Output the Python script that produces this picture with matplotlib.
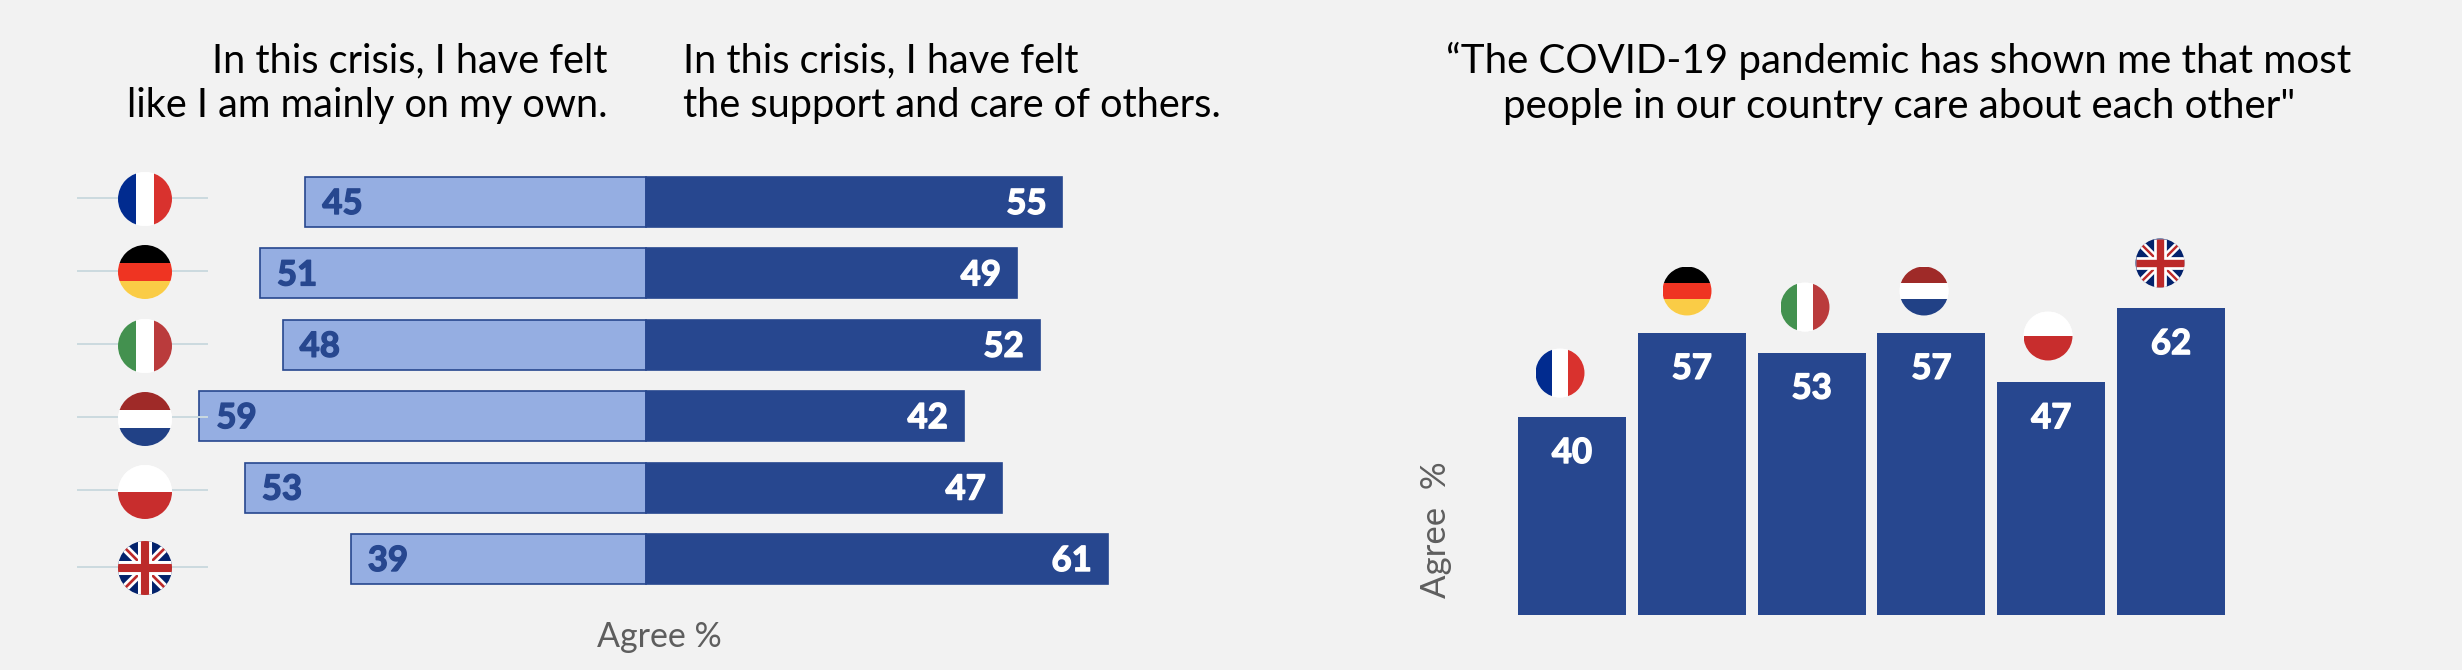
import matplotlib
matplotlib.use('Agg')
import matplotlib.pyplot as plt
import matplotlib.patheffects as pe
from matplotlib.patches import Circle, Rectangle

countries = ['France', 'Germany', 'Italy', 'Netherlands', 'Poland', 'UK']
on_my_own = [45, 51, 48, 59, 53, 39]
support_of_others = [55, 49, 52, 42, 47, 61]
cares_about_others = [40, 57, 53, 57, 47, 62]

left_title_a = ['In this crisis, I have felt', 'like I am mainly on my own.']
left_title_b = ['In this crisis, I have felt', 'the support and care of others.']
right_title = ['\u201cThe COVID-19 pandemic has shown me that most',
               'people in our country care about each other"']

BG = '#F2F2F2'
DARK = '#27478F'
LIGHT = '#95AEE2'
GREY = '#5E5E5E'
W, H = 2462, 670

plt.rcParams['font.family'] = ['Lato', 'DejaVu Sans']

fig = plt.figure(figsize=(W / 100, H / 100), dpi=100, facecolor=BG)


def px_axes(x0, y0, x1, y1):
    """axes from a pixel box, y measured from the top of the picture"""
    ax = fig.add_axes([x0 / W, 1 - y1 / H, (x1 - x0) / W, (y1 - y0) / H])
    ax.set_axis_off()
    return ax


def value_label(ax, x, y, text, dx, dy, color, ha):
    # offsets are given in picture pixels, the stroke fattens Lato bold to the heavy digits of the original
    t = ax.annotate(text, (x, y), xytext=(dx, dy), textcoords='offset pixels', ha=ha, va='baseline',
                    color=color, fontsize=25, fontweight='bold')
    t.set_path_effects([pe.withStroke(linewidth=1.0, foreground=color)])


# diverging bars, 0 sits at x=646 with 7.57 px per point
ax1 = px_axes(100, 140, 1200, 620)
ax1.set_xlim((100 - 646) / 7.57, (1200 - 646) / 7.57)
ax1.set_ylim((620 - 202) / 71.4, (140 - 202) / 71.4)
rows = range(len(countries))
ax1.barh(rows, [-v for v in on_my_own], height=0.70, color=LIGHT, edgecolor=DARK, linewidth=1.2)
ax1.barh(rows, support_of_others, height=0.70, color=DARK, edgecolor=DARK, linewidth=1.2)
for i in rows:
    value_label(ax1, -on_my_own[i], i, str(on_my_own[i]), 17, -12, DARK, 'left')
    value_label(ax1, support_of_others[i], i, str(support_of_others[i]), -16, -12, 'white', 'right')

# column chart, baseline at y=615 with 4.95 px per point
ax2 = px_axes(1500, 230, 2240, 615)
ax2.set_xlim(-0.5 + (1500 - 1512) / 119.7, 5.5 + (2240 - 2231) / 119.7)
ax2.set_ylim(0, 385 / 4.95)
ax2.bar(rows, cares_about_others, width=0.9, color=DARK)
for i in rows:
    value_label(ax2, i, cares_about_others[i], str(cares_about_others[i]), 0, -46, 'white', 'center')

# overlay in picture pixels for the titles and the flags
ov = px_axes(0, 0, W, H)
ov.set_xlim(0, W)
ov.set_ylim(H, 0)

title_kw = dict(fontsize=28.6, color='black', va='baseline')
ov.text(608, 72, left_title_a[0], ha='right', **title_kw)
ov.text(608, 117, left_title_a[1], ha='right', **title_kw)
ov.text(683, 72, left_title_b[0], ha='left', **title_kw)
ov.text(683, 117, left_title_b[1], ha='left', **title_kw)
title_kw['fontsize'] = 29
ov.text(1899, 73, right_title[0], ha='center', **title_kw)
ov.text(1899, 118, right_title[1], ha='center', **title_kw)

ov.text(659, 637, 'Agree %', ha='center', va='center', fontsize=24.5, color=GREY)
ov.text(1436, 530, 'Agree  %', ha='center', va='center', rotation=90, fontsize=25, color=GREY)


def stripes(x, y, r, colors, vertical, clip):
    n = len(colors)
    for k, c in enumerate(colors):
        if vertical:
            s = Rectangle((x - r + 2 * r * k / n, y - r), 2 * r / n, 2 * r, fc=c, ec='none', zorder=3)
        else:
            s = Rectangle((x - r, y - r + 2 * r * k / n), 2 * r, 2 * r / n, fc=c, ec='none', zorder=3)
        ov.add_patch(s)
        s.set_clip_path(clip)


def union_jack(x, y, r, clip):
    clip.set_facecolor('#03226C')
    parts = [
        ((x - r, x + r), (y - r, y + r), 'white', 0.30 * r),
        ((x - r, x + r), (y + r, y - r), 'white', 0.30 * r),
        ((x - r, x + r), (y - r, y + r), '#BC2A2A', 0.10 * r),
        ((x - r, x + r), (y + r, y - r), '#BC2A2A', 0.10 * r),
        ((x, x), (y - r, y + r), 'white', 0.52 * r),
        ((x - r, x + r), (y, y), 'white', 0.52 * r),
        ((x, x), (y - r, y + r), '#BC2A2A', 0.30 * r),
        ((x - r, x + r), (y, y), '#BC2A2A', 0.30 * r),
    ]
    for xs, ys, c, lw in parts:
        line, = ov.plot(xs, ys, color=c, lw=lw * 0.72, solid_capstyle='butt', zorder=3)
        line.set_clip_path(clip)


flags = {
    'France': (['#012B8F', 'white', '#D9322E'], True),
    'Germany': (['black', '#EF3422', '#FACC46'], False),
    'Italy': (['#43914F', 'white', '#BA3B3C'], True),
    'Netherlands': (['#9F2A28', 'white', '#214186'], False),
    'Poland': (['white', '#C82D2D'], False),
}


def draw_flag(name, x, y, r):
    disc = Circle((x, y), r, fc='white', ec='none', zorder=2.5)
    ov.add_patch(disc)
    if name == 'UK':
        union_jack(x, y, r, disc)
    else:
        colors, vertical = flags[name]
        stripes(x, y, r, colors, vertical, disc)


left_flag_y = [199, 272, 346, 419, 492, 568]
left_line_y = [198, 271, 344, 417, 490, 567]
right_flag_x = [1560, 1687, 1805, 1924, 2048, 2160]
right_flag_y = [373, 291, 307, 291, 336, 263]

for name, fy, ly in zip(countries, left_flag_y, left_line_y):
    ov.plot([78, 207], [ly, ly], color='#CBDADF', lw=1.4, zorder=1)
    draw_flag(name, 145, fy, 27)
for name, fx, fy in zip(countries, right_flag_x, right_flag_y):
    draw_flag(name, fx, fy, 24.5)

fig.savefig('out.png', dpi=100, facecolor=BG)
